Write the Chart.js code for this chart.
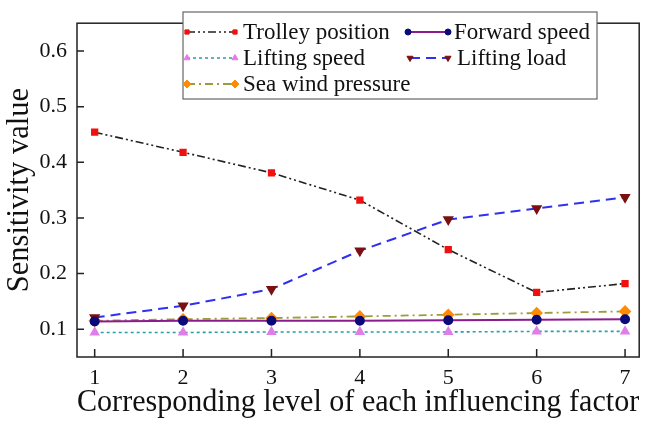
<!DOCTYPE html>
<html>
<head>
<meta charset="utf-8">
<script src="https://cdn.jsdelivr.net/npm/chart.js@4/dist/chart.umd.min.js"></script>
<style>
  html, body { margin: 0; padding: 0; background: #fff; }
  canvas { display: block; }
</style>
</head>
<body>
<canvas id="sensChart" width="646" height="422"></canvas>
<script>
// ── DATA ──────────────────────────────────────
const levels = [1, 2, 3, 4, 5, 6, 7];
const trolleyPosition = [0.454, 0.418, 0.381, 0.332, 0.243, 0.166, 0.182];
const forwardSpeed    = [0.114, 0.115, 0.115, 0.115, 0.116, 0.117, 0.118];
const liftingSpeed    = [0.094, 0.094, 0.095, 0.095, 0.095, 0.096, 0.096];
const liftingLoad     = [0.121, 0.142, 0.172, 0.241, 0.297, 0.317, 0.337];
const seaWindPressure = [0.115, 0.118, 0.120, 0.123, 0.126, 0.129, 0.132];
const yTickValues = [0.1, 0.2, 0.3, 0.4, 0.5, 0.6];

const SERIF = "'Liberation Serif', 'Times New Roman', serif";

function toPoints(values) {
  return values.map((v, i) => ({ x: levels[i], y: v }));
}

// ── FRAME + INWARD TICKS ──────────────────────
const framePlugin = {
  id: "frame",
  afterDatasetsDraw(chart) {
    const { ctx, chartArea: a, scales } = chart;
    ctx.save();
    ctx.strokeStyle = "#222";
    ctx.lineWidth = 1.5;
    ctx.strokeRect(a.left, a.top, a.right - a.left, a.bottom - a.top);
    ctx.beginPath();
    scales.x.ticks.forEach((t, i) => {
      const px = scales.x.getPixelForTick(i);
      ctx.moveTo(px, a.bottom);
      ctx.lineTo(px, a.bottom - 8);
    });
    scales.y.ticks.forEach((t, i) => {
      const py = scales.y.getPixelForTick(i);
      ctx.moveTo(a.left, py);
      ctx.lineTo(a.left + 7, py);
    });
    ctx.stroke();
    ctx.restore();
  }
};

// ── LEGEND (two columns, boxed) ───────────────
const legendSlots = [
  { ds: 0, x1: 187, x2: 235, tx: 243, ty: 32 },
  { ds: 1, x1: 408, x2: 448, tx: 454, ty: 32 },
  { ds: 2, x1: 187, x2: 235, tx: 243, ty: 58 },
  { ds: 3, x1: 410, x2: 448, tx: 457, ty: 58 },
  { ds: 4, x1: 187, x2: 235, tx: 243, ty: 84 }
];

const boxLegendPlugin = {
  id: "boxLegend",
  afterDraw(chart) {
    const ctx = chart.ctx;
    ctx.save();
    ctx.fillStyle = "#fff";
    ctx.fillRect(183, 12, 414, 87);
    ctx.strokeStyle = "#666";
    ctx.lineWidth = 1.2;
    ctx.strokeRect(183, 12, 414, 87);

    legendSlots.forEach(s => {
      const d = chart.data.datasets[s.ds];
      ctx.save();
      ctx.strokeStyle = d.borderColor;
      ctx.lineWidth = d.borderWidth;
      ctx.setLineDash(d.borderDash || []);
      ctx.beginPath();
      ctx.moveTo(s.x1, s.ty);
      ctx.lineTo(s.x2, s.ty);
      ctx.stroke();
      ctx.restore();
      [s.x1, s.x2].forEach(px => {
        ctx.fillStyle = d.pointBackgroundColor;
        ctx.strokeStyle = d.pointBorderColor;
        ctx.lineWidth = 1;
        Chart.helpers.drawPoint(ctx, {
          pointStyle: d.pointStyle,
          rotation: d.pointRotation || 0,
          radius: d.pointRadius - 1,
          borderWidth: 1
        }, px, s.ty);
      });
      ctx.fillStyle = "#111";
      ctx.font = "23px " + SERIF;
      ctx.textBaseline = "middle";
      ctx.textAlign = "left";
      ctx.fillText(d.label, s.tx, s.ty + 1);
    });
    ctx.restore();
  }
};

// ── CHART ────────────────────────────────────
new Chart(document.getElementById("sensChart"), {
  type: "line",
  data: {
    datasets: [
      {
        label: "Trolley position",
        data: toPoints(trolleyPosition),
        borderColor: "#222",
        borderWidth: 1.6,
        borderDash: [8, 3, 2, 3, 2, 3],
        pointStyle: "rect",
        pointRadius: 4,
        pointBackgroundColor: "#f01010",
        pointBorderColor: "#f01010"
      },
      {
        label: "Forward speed",
        data: toPoints(forwardSpeed),
        borderColor: "#8a1c8f",
        borderWidth: 2,
        borderDash: [],
        pointStyle: "circle",
        pointRadius: 4,
        pointBackgroundColor: "#0a0a78",
        pointBorderColor: "#0a0a78"
      },
      {
        label: "Lifting speed",
        data: toPoints(liftingSpeed),
        borderColor: "#2a9fa8",
        borderWidth: 1.6,
        borderDash: [3, 3],
        pointStyle: "triangle",
        pointRadius: 4.5,
        pointBackgroundColor: "#e07ee8",
        pointBorderColor: "#e07ee8"
      },
      {
        label: "Lifting load",
        data: toPoints(liftingLoad),
        borderColor: "#3030f0",
        borderWidth: 2,
        borderDash: [10, 6],
        pointStyle: "triangle",
        pointRotation: 180,
        pointRadius: 4.5,
        pointBackgroundColor: "#7a1010",
        pointBorderColor: "#7a1010"
      },
      {
        label: "Sea wind pressure",
        data: toPoints(seaWindPressure),
        borderColor: "#9c9c3c",
        borderWidth: 1.8,
        borderDash: [8, 4, 2, 4],
        pointStyle: "rectRot",
        pointRadius: 5,
        pointBackgroundColor: "#ff8c00",
        pointBorderColor: "#ff8c00"
      }
    ]
  },
  options: {
    responsive: false,
    animation: false,
    layout: { padding: { top: 6, right: 4, left: 0, bottom: 0 } },
    plugins: {
      legend: { display: false },
      tooltip: { enabled: false }
    },
    elements: { line: { tension: 0 } },
    scales: {
      x: {
        type: "linear",
        min: 0.8,
        max: 7.16,
        afterBuildTicks: s => { s.ticks = levels.map(v => ({ value: v })); },
        afterFit: s => { s.height = 65; },
        grid: { display: false, drawTicks: false },
        border: { display: false },
        ticks: {
          color: "#111",
          padding: 8,
          maxRotation: 0,
          font: { family: SERIF, size: 22 },
          callback: v => String(v)
        },
        title: {
          display: true,
          text: "Corresponding level of each influencing factor",
          color: "#111",
          font: { family: SERIF, size: 30.5 },
          padding: { top: 0, bottom: 1 }
        }
      },
      y: {
        min: 0.05,
        max: 0.65,
        afterBuildTicks: s => { s.ticks = yTickValues.map(v => ({ value: v })); },
        afterFit: s => { s.width = 77; },
        grid: { display: false, drawTicks: false },
        border: { display: false },
        ticks: {
          color: "#111",
          padding: 10,
          font: { family: SERIF, size: 22 },
          callback: v => v.toFixed(1)
        },
        title: {
          display: true,
          text: "Sensitivity value",
          color: "#111",
          font: { family: SERIF, size: 30.5 },
          padding: { top: 2, bottom: 0 }
        }
      }
    }
  },
  plugins: [framePlugin, boxLegendPlugin]
});
</script>
</body>
</html>
